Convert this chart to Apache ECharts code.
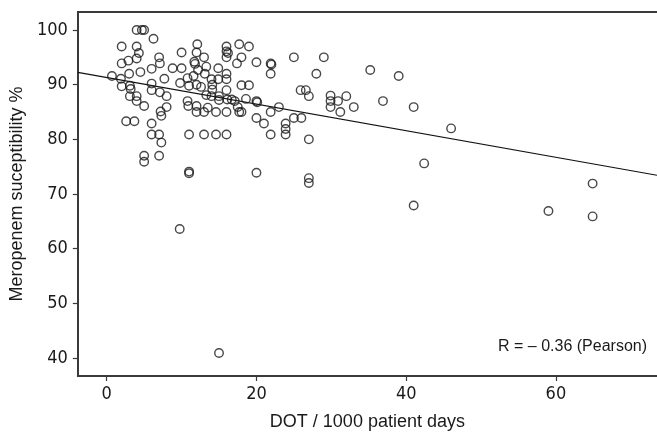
<!DOCTYPE html>
<html>
<head>
<meta charset="utf-8">
<script src="https://cdn.jsdelivr.net/npm/echarts@6/dist/echarts.min.js"></script>
<style>
html,body{margin:0;padding:0;background:#fff;}
#chart{width:657px;height:436px;}
</style>
</head>
<body>
<div id="chart"></div>
<script>
// DOT / 1000 patient days (x) and Meropenem susceptibility % (y)
const dotValues = [
  0.7,1.9,2.0,2.0,2.0,2.6,2.9,3.0,3.1,3.2,3.1,3.7,4.0,4.7,5.0,4.0,4.3,4.0,4.5,4.0,
  4.0,5.0,5.0,5.0,6.25,6.0,6.0,6.0,6.0,6.0,7.0,7.1,7.7,7.1,8.0,8.0,7.2,7.3,7.0,7.3,
  7.0,8.8,9.75,10.0,10.0,9.8,10.8,11.0,10.8,10.9,11.0,11.0,11.0,11.6,11.7,11.8,12.1,12.0,12.2,12.0,
  12.0,12.0,12.6,13.0,13.1,13.3,13.3,13.5,13.0,13.0,14.0,14.1,14.1,14.0,14.6,14.6,14.9,14.9,15.0,15.0,
  15.0,16.0,16.0,16.2,16.0,16.0,16.0,16.0,16.1,16.7,17.1,16.0,16.0,17.5,17.7,17.7,17.4,18.0,18.0,18.6,
  18.0,19.0,19.0,20.0,20.0,20.1,20.0,21.0,20.0,21.9,22.0,21.9,21.9,21.9,23.0,23.9,23.9,23.9,25.0,25.0,
  26.0,25.9,26.6,27.0,27.0,27.0,27.0,28.0,29.0,29.9,29.9,29.9,30.9,31.2,32.0,33.0,35.2,36.9,39.0,41.0,
  42.4,41.0,46.0,59.0,64.9,64.9
];
const susceptibilityValues = [
  91.6,91.1,97.0,93.9,89.7,83.3,94.4,92.0,89.8,89.2,87.9,83.3,100,100,100,97.0,95.8,94.8,92.3,87.9,
  87.0,86.1,77.0,75.9,98.4,92.9,90.2,89.0,82.9,80.9,95.0,93.9,91.1,88.6,87.9,85.9,85.1,84.3,80.9,79.4,
  77.0,93.0,63.6,95.9,93.0,90.3,91.2,89.8,87.0,86.1,80.9,74.1,73.8,91.6,94.2,93.8,97.4,95.9,92.7,90.0,
  86.1,85.0,89.6,95.0,92.0,93.3,88.1,85.8,85.0,80.9,91.0,90.0,89.1,87.9,85.0,80.9,93.0,91.0,87.9,87.2,
  40.9,97.0,96.1,95.8,95.0,92.0,91.0,89.0,87.3,87.3,87.0,85.0,80.9,85.9,97.4,85.0,93.9,95.0,89.9,87.4,
  85.0,97.0,89.9,94.1,87.0,86.8,83.9,82.9,73.9,93.9,93.7,92.0,85.0,80.9,85.9,82.9,81.9,80.9,95.0,83.9,
  83.9,89.0,89.0,87.9,80.0,72.9,72.0,92.0,95.0,88.0,87.0,85.9,87.0,85.0,87.9,85.9,92.7,87.0,91.6,85.9,
  75.6,67.9,82.0,66.9,71.9,65.9
];
// Regression line end points
const fitX = [-3.86, 73.5];
const fitY = [92.24, 73.43];
// Tick labels
const xTicks = [0, 20, 40, 60];
const yTicks = [40, 50, 60, 70, 80, 90, 100];
const xName = 'DOT / 1000 patient days';
const yName = 'Meropenem suceptibility %';
const annotation = 'R = \u2013 0.36 (Pearson)';

const points = dotValues.map((x, i) => [x, susceptibilityValues[i]]);
const fitLine = fitX.map((x, i) => [x, fitY[i]]);

const labelFont = '"Liberation Sans Narrow", "Arial Narrow", "DejaVu Sans Condensed", sans-serif';
const nameFont = '"Liberation Sans", Arial, sans-serif';
const axisColor = '#3a3a3a';

const chart = echarts.init(document.getElementById('chart'), null, {renderer: 'canvas'});
chart.setOption({
  animation: false,
  backgroundColor: '#fff',
  grid: {left: 76, top: 12, right: 0, bottom: 58, show: false},
  xAxis: [{
    type: 'value', min: -3.86, max: 73.5, position: 'bottom',
    splitLine: {show: false},
    axisLine: {show: true, onZero: false, lineStyle: {color: axisColor, width: 2}},
    axisTick: {show: true, inside: false, length: 5, lineStyle: {color: axisColor, width: 1.2}, customValues: xTicks},
    axisLabel: {customValues: xTicks, color: '#1a1a1a', fontSize: 18, fontFamily: labelFont, margin: 9},
    name: xName, nameLocation: 'middle', nameGap: 37,
    nameTextStyle: {color: '#1a1a1a', fontSize: 18, fontFamily: nameFont}
  }, {
    type: 'value', min: -3.86, max: 73.5, position: 'top',
    splitLine: {show: false},
    axisLine: {show: true, onZero: false, lineStyle: {color: axisColor, width: 2}},
    axisTick: {show: false}, axisLabel: {show: false}
  }],
  yAxis: {
    type: 'value', min: 36.7, max: 103.3,
    splitLine: {show: false},
    axisLine: {show: true, onZero: false, lineStyle: {color: axisColor, width: 2}},
    axisTick: {show: true, inside: false, length: 5, lineStyle: {color: axisColor, width: 1.2}, customValues: yTicks},
    axisLabel: {customValues: yTicks, color: '#1a1a1a', fontSize: 18, fontFamily: labelFont, margin: 10},
    name: yName, nameLocation: 'middle', nameGap: 45, nameRotate: 90,
    nameTextStyle: {color: '#1a1a1a', fontSize: 18, fontFamily: nameFont}
  },
  series: [
    {
      type: 'line', data: fitLine, symbol: 'none', silent: true, xAxisIndex: 0,
      lineStyle: {color: '#111', width: 1.2}, z: 1
    },
    {
      type: 'scatter', data: points, symbol: 'circle', symbolSize: 8.5, xAxisIndex: 0,
      itemStyle: {color: 'rgba(255,255,255,0)', borderColor: '#1a1a1a', borderWidth: 1.4}, z: 2
    }
  ],
  graphic: [{
    type: 'text', right: 10, top: 339,
    style: {text: annotation, fill: '#1a1a1a', font: '16px "Liberation Sans", Arial, sans-serif'}
  }]
});
</script>
</body>
</html>
